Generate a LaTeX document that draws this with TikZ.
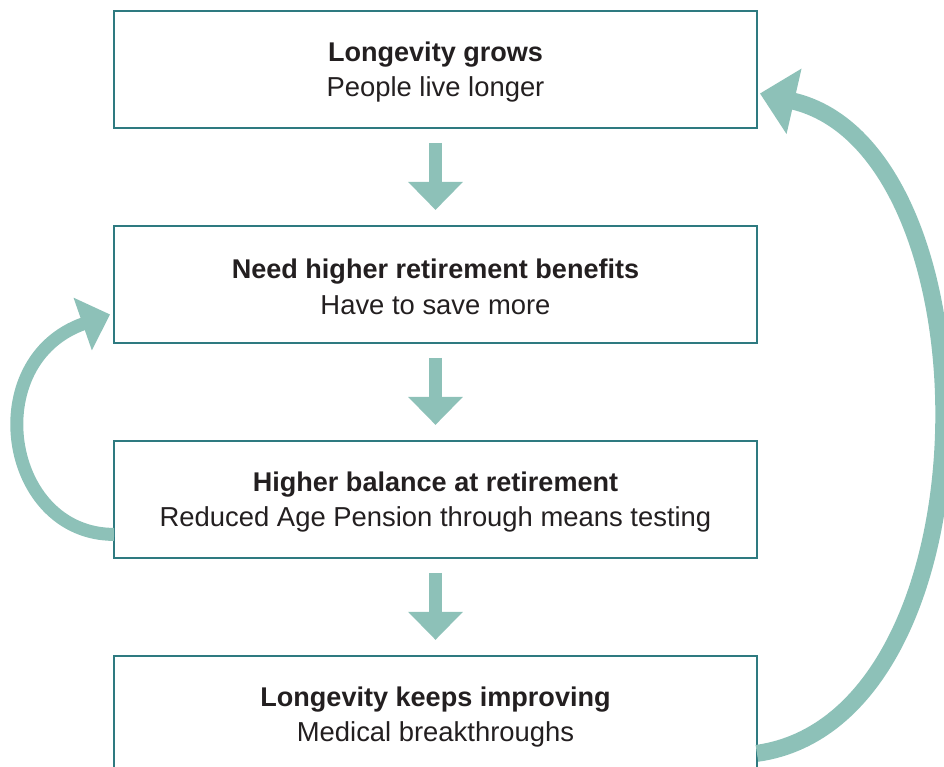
\documentclass[tikz,border=0pt]{standalone}
\usepackage{fontspec}
\setmainfont{Liberation Sans}
\usetikzlibrary{positioning,calc,arrows.meta}

\definecolor{boxteal}{RGB}{46,122,128}
\definecolor{arrowteal}{RGB}{141,193,184}
\definecolor{inkgrey}{RGB}{35,31,32}

\tikzset{
    chainbox/.style = {draw = boxteal, line width = 0.05cm, outer sep = 0pt,
        minimum width = 12.86cm, minimum height = 2.34cm, align = center,
        text = inkgrey, font = \fontsize{15.6}{20.2}\selectfont},
    downarrow/.style = {draw = arrowteal, line width = 0.26cm,
        -{Triangle[length = 0.56cm, width = 1.06cm]},
        shorten < = 0.3cm, shorten > = 0.32cm},
    looparrow/.style = {draw = arrowteal, line width = 0.26cm,
        -{Triangle[length = 0.58cm, width = 1.08cm]}},
    bigloop/.style = {draw = arrowteal, line width = 0.34cm,
        -{Triangle[length = 0.7cm, width = 1.3cm]}}
}

\newcommand{\headline}[1]{\rule{0pt}{14.1pt}{\fontsize{15.4}{20.2}\selectfont\bfseries #1}}

\begin{document}
\begin{tikzpicture}[x = 0.02cm, y = 0.02cm]

        % Fix the frame of the picture.
        \useasboundingbox (0, 0) rectangle (944, 767);
        \clip (0, 0) rectangle (944, 767);

        % The four boxes of the chain.
        \node (b1) at (435.5, 697.5) [chainbox]
            {\headline{Longevity grows}\\People live longer};
        \node (b2) [chainbox, below = 1.96cm of b1]
            {\headline{Need higher retirement benefits}\\Have to save more};
        \node (b3) [chainbox, below = 1.96cm of b2]
            {\headline{Higher balance at retirement}\\Reduced Age Pension through means testing};
        \node (b4) [chainbox, below = 1.96cm of b3]
            {\headline{Longevity keeps improving}\\Medical breakthroughs};

        % Arrows down the chain.
        \draw [downarrow] (b1) to (b2);
        \draw [downarrow] (b2) to (b3);
        \draw [downarrow] (b3) to (b4);

        % Loop back from the balance to the benefits.
        \draw [looparrow] ($(b3.west)+(0, -35)$)
            .. controls +(-110, 0) and +(-132, -46) .. ($(b2.west)+(-4, -30)$);

        % Loop back from improving longevity to the top.
        \draw [bigloop] ($(b4.east)+(0, -39)$)
            .. controls +(243, 34) and +(240, -55) .. ($(b1.east)+(3, -24)$);
    \end{tikzpicture}
\end{document}
